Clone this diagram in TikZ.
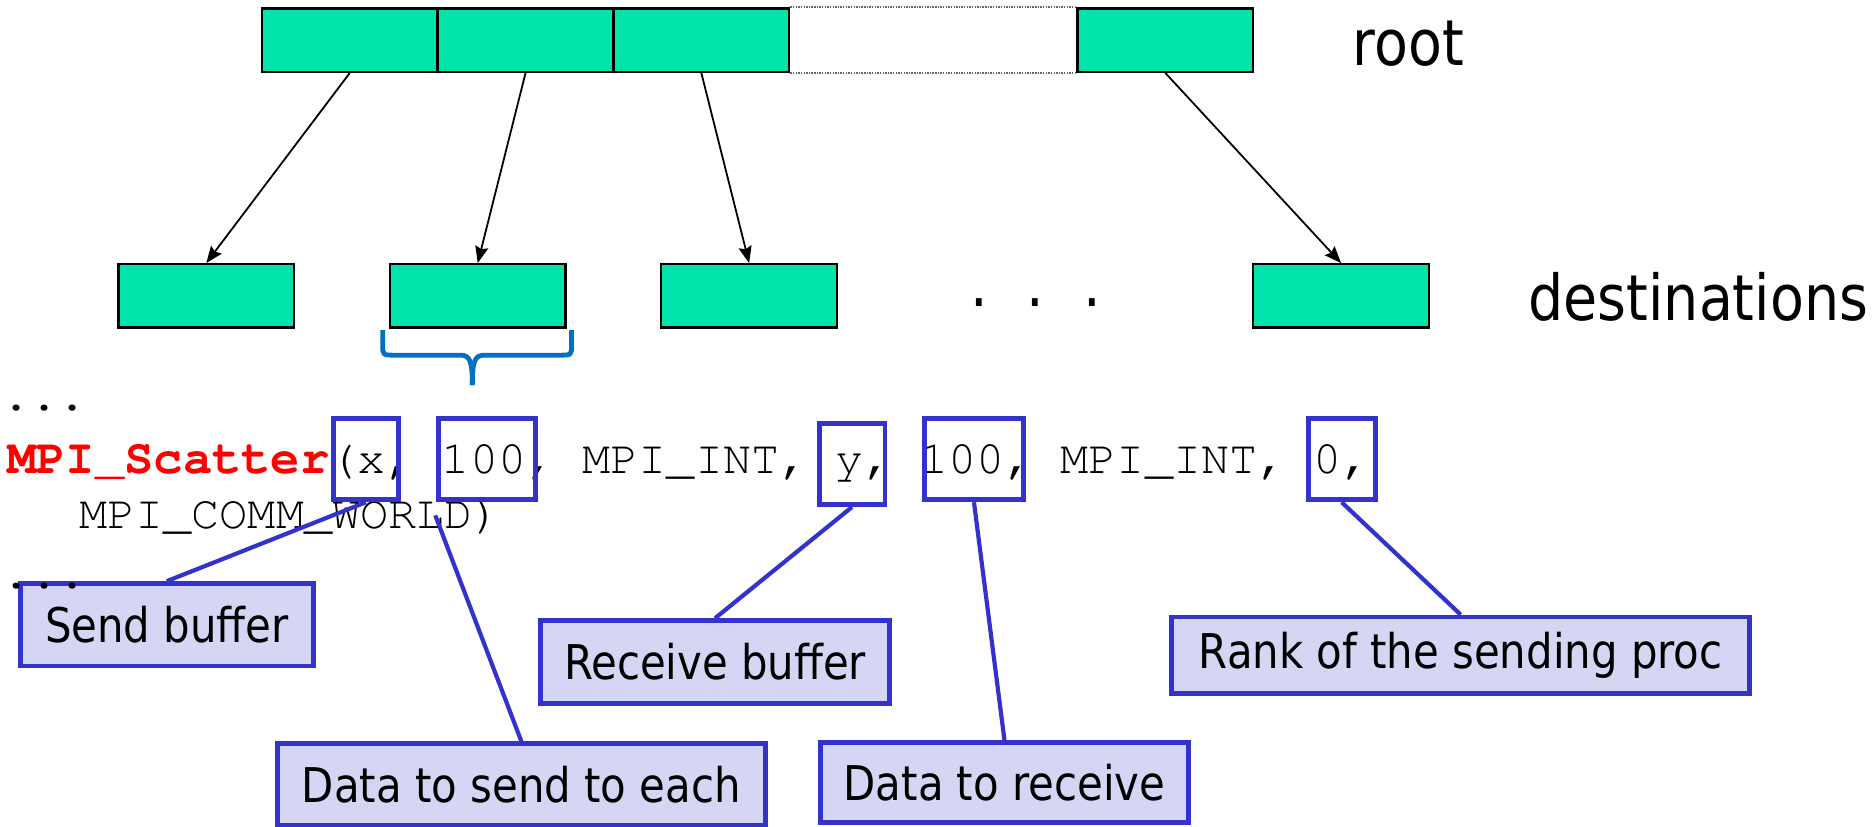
\documentclass[tikz,border=0pt]{standalone}
\usepackage{fontspec}
\setmainfont{DejaVu Sans}[FakeStretch=0.875]
\usetikzlibrary{arrows.meta}
\definecolor{cellgreen}{RGB}{0,228,170}
\definecolor{notefill}{RGB}{212,214,244}
\definecolor{noteblue}{RGB}{51,51,204}
\definecolor{bracecol}{RGB}{0,112,192}
\definecolor{codered}{RGB}{255,0,0}
% Courier-style typewriter face for the code lines
\newcommand{\codeface}{\fontencoding{T1}\fontfamily{pcr}\selectfont}

\begin{document}
\begin{tikzpicture}[x=1pt,y=-1pt,
  cell/.style={draw=black, line width=2pt, fill=cellgreen,
    minimum width=147pt, minimum height=53pt, inner sep=0pt},
  argbox/.style={draw=noteblue, line width=4pt, inner sep=0pt, minimum height=68pt},
  note/.style={draw=noteblue, line width=4pt, fill=notefill, inner sep=0pt,
    font=\fontsize{40}{48}\selectfont},
  callout/.style={draw=noteblue, line width=3.5pt},
  scatter/.style={draw=black, line width=1.5pt,
    -{Stealth[length=14pt,width=11pt,inset=2pt]}},
  gapline/.style={draw=black!60, line width=1.5pt, dash pattern=on 1.2pt off 1pt},
  code/.style={anchor=base west, inner sep=0pt,
    font=\codeface\fontsize{39.2}{45}\selectfont},
  side/.style={anchor=base west, inner sep=0pt, font=\fontsize{53}{60}\selectfont},
  bracestroke/.style={draw=bracecol, line width=4pt, line join=round, line cap=butt}
]
\useasboundingbox (0,0) rectangle (1568,691);

% root buffer
\node[cell] (r1) at (292.5,33.5) {};
\node[cell] (r2) at (439.5,33.5) {};
\node[cell] (r3) at (586.5,33.5) {};
\node[cell] (r5) at (974.5,33.5) {};
\draw[gapline] (r3.north east) -- (r5.north west);
\draw[gapline] (r3.south east) -- (r5.south west);
\node[side] (root) at (1131,55) {root};

% destination buffers
\node[cell] (d1) at (172.5,247.5) {};
\node[cell] (d2) at (399.5,247.5) {};
\node[cell] (d3) at (626.5,247.5) {};
\node[cell] (d4) at (1121.5,247.5) {};
\node[side] (dots) at (811,256) {.\hspace{32.75pt}.\hspace{32.75pt}.};
\node[side] (dest) at (1278,268) {destinations};

% scatter arrows
\draw[scatter] (r1.south) -- (d1.north);
\draw[scatter] (r2.south) -- (d2.north);
\draw[scatter] (r3.south) -- (d3.north);
\draw[scatter] (r5.south) -- (d4.north);

% brace below one destination
\draw[bracestroke] (320,276) -- (320,288) .. controls (320,297) .. (330,297)
  -- (385,297) .. controls (393,297) and (395,302) .. (395,322);
\draw[bracestroke] (478,276) -- (478,288) .. controls (478,297) .. (468,297)
  -- (405,297) .. controls (397,297) and (395,302) .. (395,322);

% code
\node[code] (c0) at (2,343) {...};
\node[code] (c1) at (6,396) {\textcolor{codered}{\fontsize{40.8}{45}\selectfont\bfseries MPI\_Scatter}(x, 100, MPI\_INT, y, 100, MPI\_INT, 0,};
\node[code] (c2) at (66,442) {MPI\_COMM\_WORLD)};

% highlighted arguments
\node[argbox, minimum width=54pt] (hx) at (306,384) {};
\node[argbox, minimum width=81pt] (hna) at (407.5,384) {};
\node[argbox, minimum width=55pt] (hy) at (712.5,388) {};
\node[argbox, minimum width=83pt] (hnb) at (814.5,384) {};
\node[argbox, minimum width=56pt] (hr) at (1122,384) {};
\coordinate (hnafoot) at (364,431);

% call-outs
\node[note, minimum width=245pt, minimum height=69pt] (send) at (139.5,522.5) {Send buffer};
\node[note, minimum width=292pt, minimum height=69pt] (recv) at (598,553.5) {Receive buffer};
\node[note, minimum width=408pt, minimum height=68pt] (each) at (436,656) {Data to send to each};
\node[note, minimum width=308pt, minimum height=67pt] (drecv) at (840,654.5) {Data to receive};
\node[note, minimum width=483pt, minimum height=64pt] (rank) at (1221.5,548) {Rank of the sending proc};

\draw[callout] (hx.south) -- (send.north);
\draw[callout] (hnafoot) -- (each.north);
\draw[callout] (hy.south) -- (recv.north);
\draw[callout] (hnb.south) -- (drecv.north);
\draw[callout] (hr.south) -- (rank.north);

\node[code] (c3) at (2,492) {...};
\end{tikzpicture}
\end{document}
